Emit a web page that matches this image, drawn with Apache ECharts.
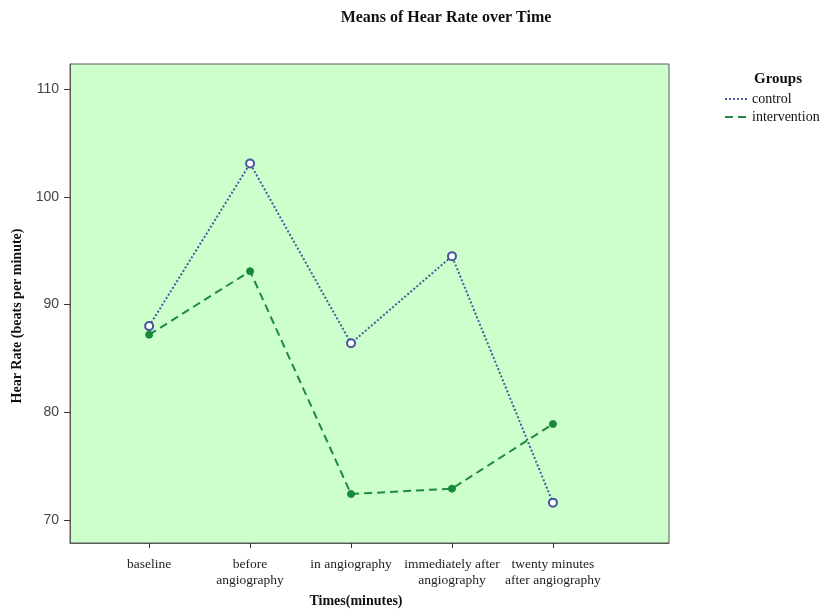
<!DOCTYPE html>
<html>
<head>
<meta charset="utf-8">
<script src="https://cdn.jsdelivr.net/npm/echarts@6/dist/echarts.min.js"></script>
<style>html,body{margin:0;padding:0;background:#fff;}#c{width:824px;height:616px;}</style>
</head>
<body>
<div id="c"></div>
<script>
const categories = ['baseline', 'before\nangiography', 'in angiography', 'immediately after\nangiography', 'twenty minutes\nafter angiography'];
const controlValues = [88.0, 103.1, 86.4, 94.5, 71.6];
const interventionValues = [87.2, 93.1, 72.4, 72.9, 78.9];
const yTicks = [70, 80, 90, 100, 110];
const seriesNames = ['control', 'intervention'];

const chart = echarts.init(document.getElementById('c'), null, {renderer: 'canvas'});
const catIdx = categories.map((c, i) => i);
const serif = '"Liberation Serif", "DejaVu Serif", serif';
const sans = '"Liberation Sans", Arial, sans-serif';

chart.setOption({
  animation: false,
  backgroundColor: '#ffffff',
  title: [
    {text: 'Means of Hear Rate over Time', left: 441, top: 5, textAlign: 'center',
     textStyle: {fontFamily: serif, fontWeight: 'bold', fontSize: 16, color: '#111'}},
    {text: 'Times(minutes)', left: 351, top: 589, textAlign: 'center',
     textStyle: {fontFamily: serif, fontWeight: 'bold', fontSize: 14, color: '#111'}},
    {text: 'Groups', left: 773, top: 67, textAlign: 'center',
     textStyle: {fontFamily: serif, fontWeight: 'bold', fontSize: 15, color: '#111'}}
  ],
  legend: {
    orient: 'vertical', left: 724, top: 92, padding: 0, itemWidth: 24, itemHeight: 10, itemGap: 4,
    data: seriesNames,
    itemStyle: {opacity: 0},
    textStyle: {fontFamily: serif, fontSize: 14, color: '#111', padding: [0, 0, 0, -2]}
  },
  grid: {left: 70, right: 155, top: 64, bottom: 73, show: true,
         backgroundColor: '#ccffcc', borderColor: '#5a5a5a', borderWidth: 1},
  xAxis: {
    type: 'value', min: -0.784, max: 5.15,
    axisLine: {show: true, onZero: false, lineStyle: {color: '#5a5a5a'}},
    splitLine: {show: false},
    axisTick: {show: true, customValues: catIdx, length: 5, lineStyle: {color: '#333'}},
    axisLabel: {customValues: catIdx, formatter: v => categories[Math.round(v)],
      fontFamily: serif, fontSize: 13.5, color: '#222', lineHeight: 16, margin: 13}
  },
  yAxis: {
    type: 'value', min: 67.85, max: 112.35,
    name: 'Hear Rate (beats per minute)', nameLocation: 'middle', nameGap: 44,
    nameTextStyle: {fontFamily: serif, fontWeight: 'bold', fontSize: 14, color: '#111', padding: [0, 25, 0, 0]},
    axisLine: {show: true, onZero: false, lineStyle: {color: '#5a5a5a'}},
    splitLine: {show: false},
    axisTick: {show: true, customValues: yTicks, length: 6, lineStyle: {color: '#333'}},
    axisLabel: {customValues: yTicks, fontFamily: sans, fontSize: 14, color: '#444', margin: 11}
  },
  series: [
    {name: seriesNames[0], type: 'line', data: controlValues.map((v, i) => [i, v]),
     symbol: 'circle', symbolSize: 8,
     lineStyle: {color: '#4a5a9c', width: 2, type: [2, 2]},
     itemStyle: {color: '#ffffff', borderColor: '#44549a', borderWidth: 2}},
    {name: seriesNames[1], type: 'line', data: interventionValues.map((v, i) => [i, v]),
     symbol: 'circle', symbolSize: 7,
     lineStyle: {color: '#1f8a3f', width: 2, type: [8, 5]},
     itemStyle: {color: '#178a3a', borderColor: '#178a3a', borderWidth: 1}}
  ]
});
</script>
</body>
</html>
